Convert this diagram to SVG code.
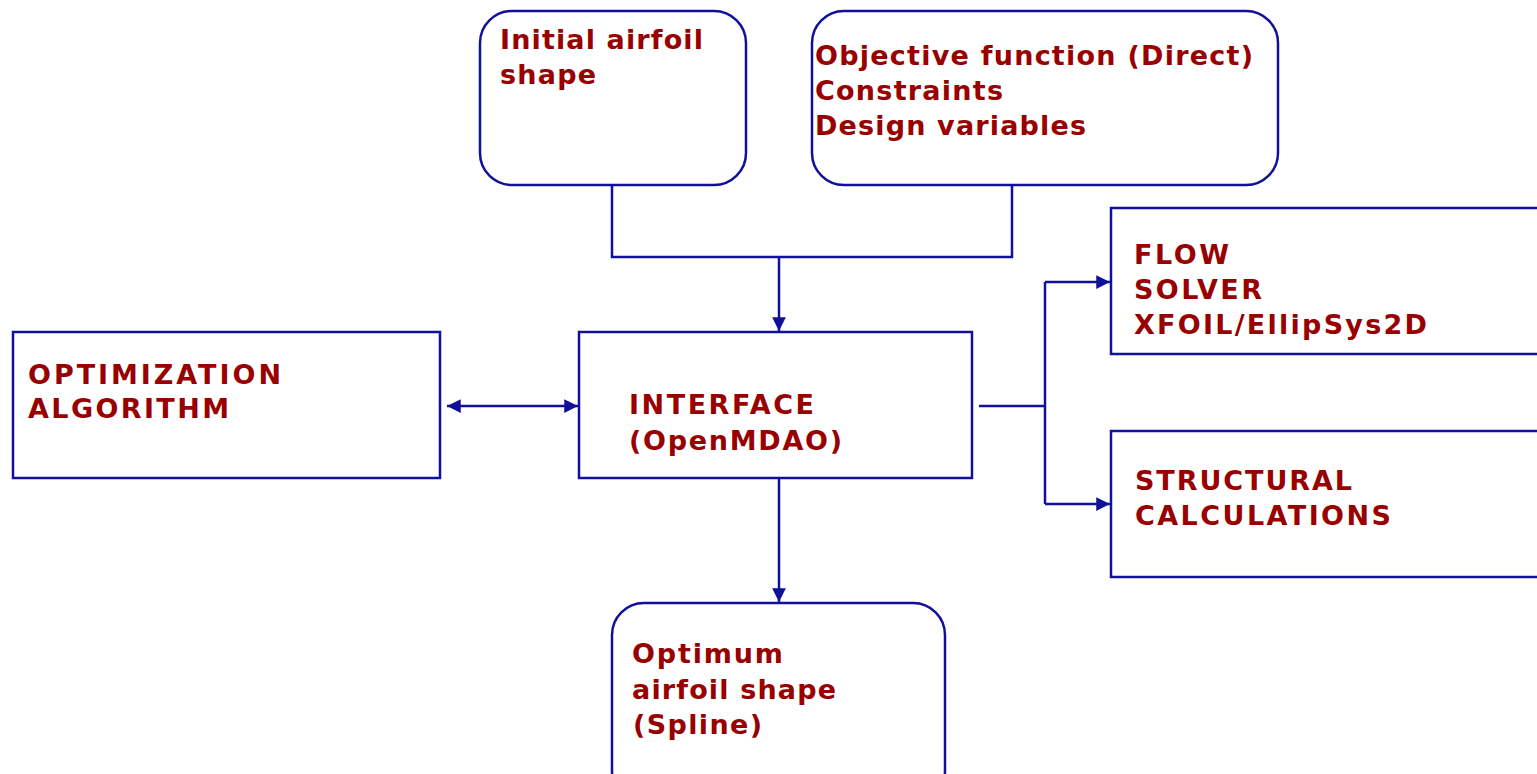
<svg xmlns="http://www.w3.org/2000/svg" width="1537" height="774" viewBox="0 0 1537 774">
<defs>
<style>
.box{fill:#fff;stroke:#10109a;stroke-width:2.5}
.ln{fill:none;stroke:#10109a;stroke-width:2.5}
text{font-family:"DejaVu Sans",Verdana,sans-serif;font-weight:bold;font-size:27px;fill:#990000}
</style>
<marker id="ah" viewBox="0 0 10 10" refX="10" refY="5" markerWidth="5.5" markerHeight="5.5" orient="auto-start-reverse" markerUnits="strokeWidth">
<path d="M0,0L10,5L0,10z" fill="#10109a"/>
</marker>
</defs>
<rect width="1537" height="774" fill="#fff"/>
<g id="connectors">
<path class="ln" d="M612,185V257H1012V185"/>
<path class="ln" d="M779,257V331" marker-end="url(#ah)"/>
<path class="ln" d="M447,406H578" marker-start="url(#ah)" marker-end="url(#ah)"/>
<path class="ln" d="M979,406H1045"/>
<path class="ln" d="M1045,282V504"/>
<path class="ln" d="M1045,282H1110" marker-end="url(#ah)"/>
<path class="ln" d="M1045,504H1110" marker-end="url(#ah)"/>
<path class="ln" d="M779,478V602" marker-end="url(#ah)"/>
</g>
<g id="initial">
<rect class="box" x="480" y="11" width="266" height="174" rx="32"/>
<text x="500" y="49" textLength="203" lengthAdjust="spacing">Initial airfoil</text>
<text x="500" y="84" textLength="96" lengthAdjust="spacing">shape</text>
</g>
<g id="objective">
<rect class="box" x="812" y="11" width="466" height="174" rx="32"/>
<text x="815" y="65" textLength="438" lengthAdjust="spacing">Objective function (Direct)</text>
<text x="815" y="100" textLength="188" lengthAdjust="spacing">Constraints</text>
<text x="815" y="135" textLength="271" lengthAdjust="spacing">Design variables</text>
</g>
<g id="optimization">
<rect class="box" x="13" y="332" width="427" height="146"/>
<text x="28" y="384" textLength="253" lengthAdjust="spacing">OPTIMIZATION</text>
<text x="28" y="418" textLength="201" lengthAdjust="spacing">ALGORITHM</text>
</g>
<g id="interface">
<rect class="box" x="579" y="332" width="393" height="146"/>
<text x="629" y="414" textLength="185" lengthAdjust="spacing">INTERFACE</text>
<text x="629" y="450" textLength="213" lengthAdjust="spacing">(OpenMDAO)</text>
</g>
<g id="flow">
<rect class="box" x="1111" y="208" width="440" height="146"/>
<text x="1134" y="264" textLength="95" lengthAdjust="spacing">FLOW</text>
<text x="1134" y="299" textLength="128" lengthAdjust="spacing">SOLVER</text>
<text x="1134" y="334" textLength="293" lengthAdjust="spacing">XFOIL/EllipSys2D</text>
</g>
<g id="structural">
<rect class="box" x="1111" y="431" width="440" height="146"/>
<text x="1135" y="490" textLength="217" lengthAdjust="spacing">STRUCTURAL</text>
<text x="1135" y="525" textLength="256" lengthAdjust="spacing">CALCULATIONS</text>
</g>
<g id="optimum">
<rect class="box" x="612" y="603" width="333" height="200" rx="32"/>
<text x="632" y="663" textLength="151" lengthAdjust="spacing">Optimum</text>
<text x="632" y="699" textLength="204" lengthAdjust="spacing">airfoil shape</text>
<text x="633" y="734" textLength="129" lengthAdjust="spacing">(Spline)</text>
</g>
</svg>
